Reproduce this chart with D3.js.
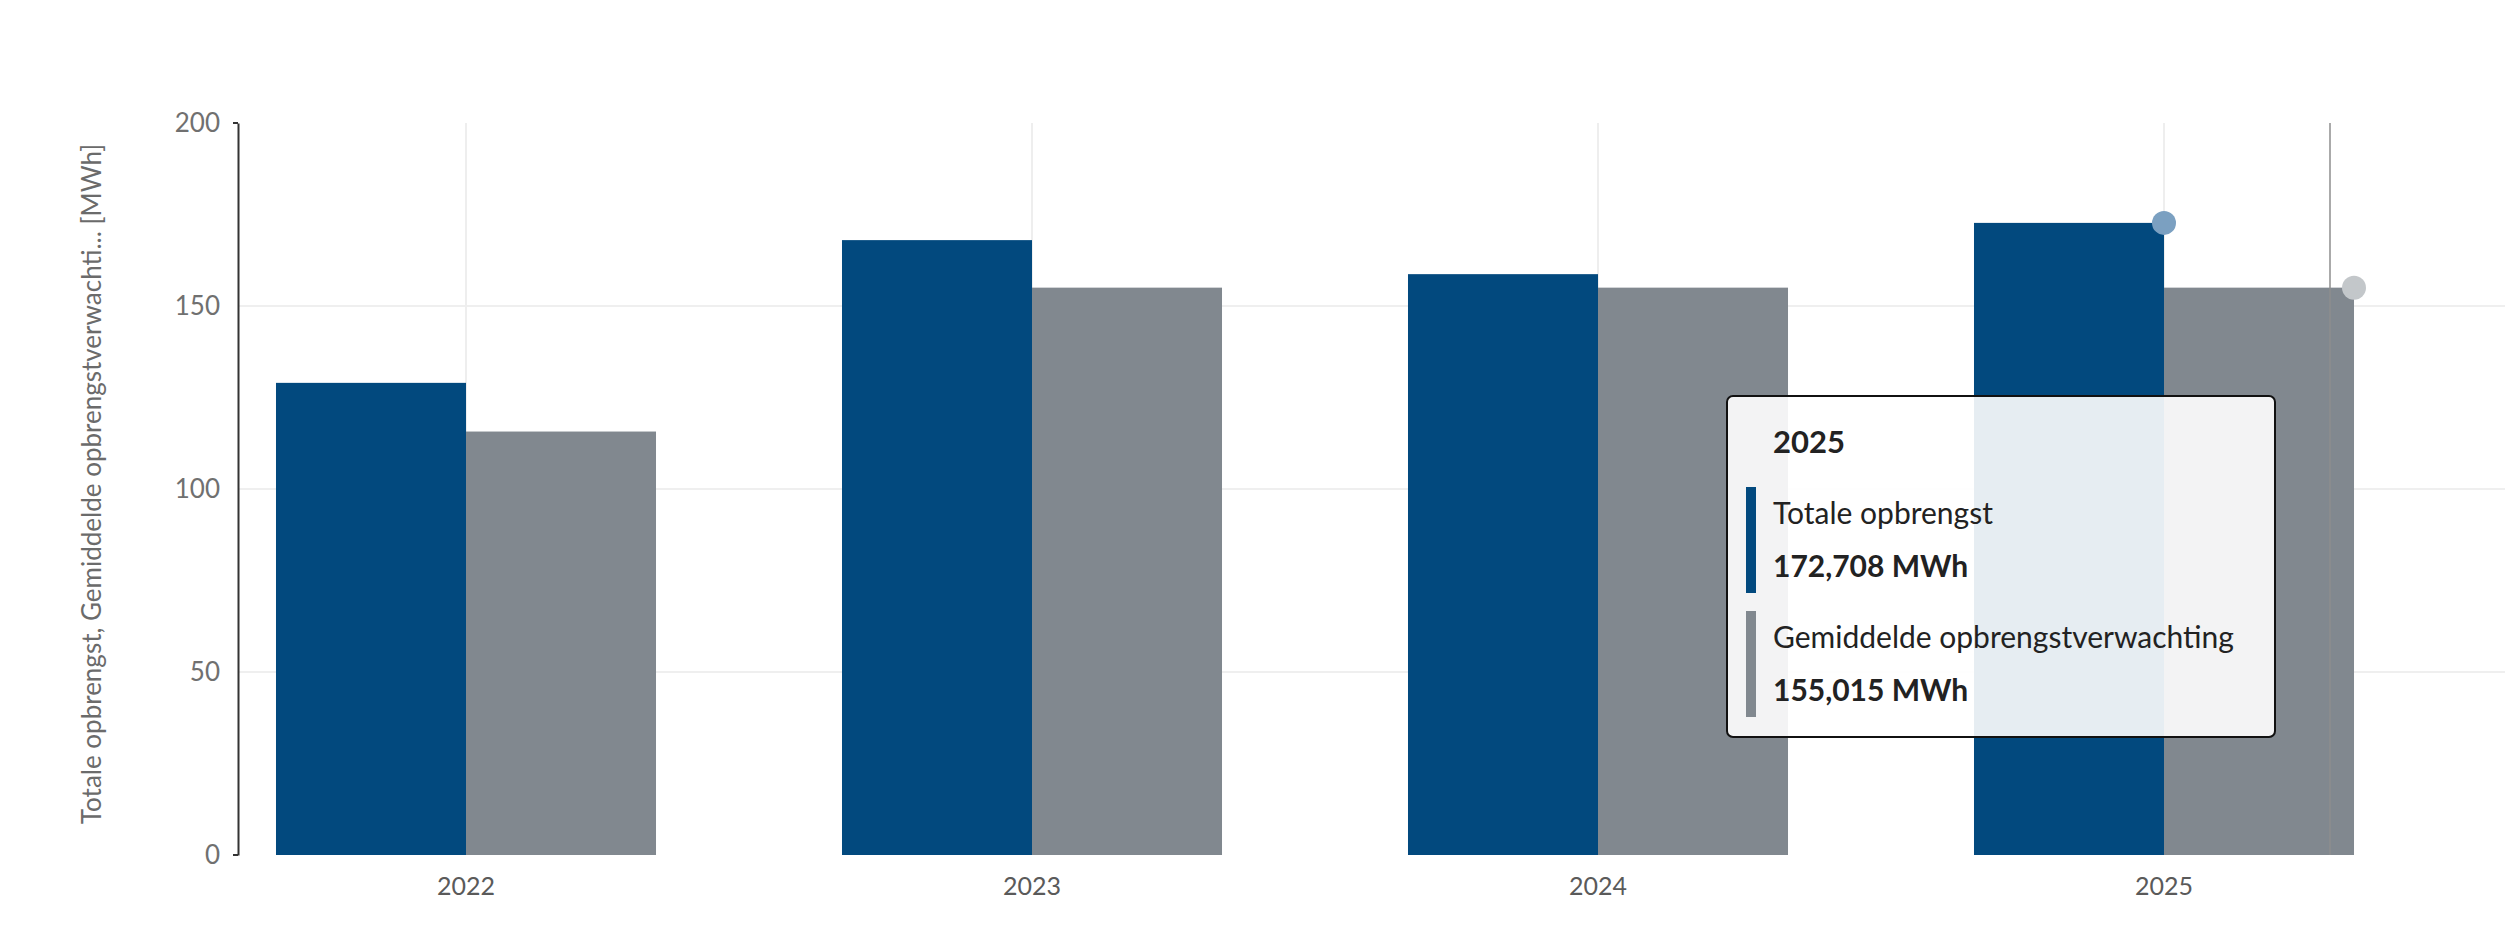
<!DOCTYPE html>
<html>
<head>
<meta charset="utf-8">
<script src="https://cdn.jsdelivr.net/npm/d3@7"></script>
<style>
  html, body { margin: 0; padding: 0; background: #ffffff; }
  svg { display: block; font-family: Lato, "Open Sans", sans-serif; }
</style>
</head>
<body>
<svg id="chart" width="2505" height="935"></svg>
<script>
// ---- data ----
const years = ["2022", "2023", "2024", "2025"];
const seriesNames = ["Totale opbrengst", "Gemiddelde opbrengstverwachting"];
const totaleOpbrengst = [129.0, 168.0, 158.7, 172.708];
const opbrengstVerwachting = [115.7, 155.015, 155.015, 155.015];
const yTicks = [0, 50, 100, 150, 200];
const yTitle = "Totale opbrengst, Gemiddelde opbrengstverwachti... [MWh]";
const unit = "MWh";
const hoverYear = "2025";

const colors = ["#02497e", "#81888f"];
const dotColors = ["#7ba0c1", "#c3c7ca"];

const svg = d3.select("#chart");
const W = 2505, H = 935;

const y = d3.scaleLinear().domain([0, 200]).range([855, 123]);
const x0 = d3.scaleBand().domain(years).range([183, 2447]).paddingInner(0.3286).paddingOuter(0.1643);
const x1 = d3.scaleBand().domain(seriesNames).range([0, x0.bandwidth()]);

const rows = years.map((yr, i) => ({ year: yr, values: [totaleOpbrengst[i], opbrengstVerwachting[i]] }));

const axisX = 238;

// horizontal grid
svg.append("g").selectAll("line").data(yTicks.filter(t => t > 0 && t < 200)).join("line")
  .attr("x1", axisX).attr("x2", W)
  .attr("y1", d => y(d)).attr("y2", d => y(d))
  .attr("stroke", "#efefef").attr("stroke-width", 2);

// vertical grid at category centres
svg.append("g").selectAll("line").data(years).join("line")
  .attr("x1", d => x0(d) + x0.bandwidth() / 2).attr("x2", d => x0(d) + x0.bandwidth() / 2)
  .attr("y1", y(200)).attr("y2", y(0))
  .attr("stroke", "#eeeeee").attr("stroke-width", 2);

// bars
const groups = svg.append("g").selectAll("g").data(rows).join("g")
  .attr("transform", d => `translate(${x0(d.year)},0)`);
groups.selectAll("rect").data(d => d.values.map((v, j) => ({ name: seriesNames[j], v, j }))).join("rect")
  .attr("x", d => x1(d.name))
  .attr("width", x1.bandwidth())
  .attr("y", d => y(d.v))
  .attr("height", d => y(0) - y(d.v))
  .attr("fill", d => colors[d.j]);

// y axis
const yAxis = d3.axisLeft(y).tickValues(yTicks).tickSize(0).tickPadding(18).tickFormat(d3.format("d"));
const ga = svg.append("g").attr("transform", `translate(${axisX},0)`).call(yAxis);
ga.select(".domain").attr("stroke", "#333").attr("stroke-width", 2);
ga.selectAll("text").attr("font-size", 26).attr("fill", "#707070").attr("font-family", "Lato, sans-serif");
// small end ticks
svg.append("g").selectAll("line").data([200, 0]).join("line")
  .attr("x1", axisX - 5).attr("x2", axisX).attr("y1", d => y(d)).attr("y2", d => y(d))
  .attr("stroke", "#333").attr("stroke-width", 2);

// x axis labels
const xAxis = d3.axisBottom(x0).tickSize(0).tickPadding(22);
const gx = svg.append("g").attr("transform", `translate(0,${y(0)})`).call(xAxis);
gx.select(".domain").remove();
gx.selectAll("text").attr("font-size", 25).attr("fill", "#5a5a5a").attr("font-family", "Lato, sans-serif");

// y title
svg.append("text")
  .attr("transform", `translate(91,484) rotate(-90)`)
  .attr("text-anchor", "middle").attr("dominant-baseline", "central")
  .attr("font-size", 26).attr("fill", "#6b6b6b")
  .text(yTitle);

// cursor line
const hi = years.indexOf(hoverYear);
svg.append("line")
  .attr("x1", 2330).attr("x2", 2330).attr("y1", y(200)).attr("y2", y(0))
  .attr("stroke", "#8e8e8e").attr("stroke-width", 2).attr("opacity", 0.75);

// hover dots
svg.append("g").selectAll("circle").data(rows[hi].values).join("circle")
  .attr("cx", (d, j) => x0(hoverYear) + x1(seriesNames[j]) + x1.bandwidth())
  .attr("cy", d => y(d))
  .attr("r", 12)
  .attr("fill", (d, j) => dotColors[j]);

// tooltip
const fmt = v => d3.format(".3f")(v).replace(".", ",") + " " + unit;
const tt = svg.append("g");
tt.append("rect")
  .attr("x", 1727).attr("y", 396).attr("width", 548).attr("height", 341)
  .attr("rx", 6).attr("fill", "#ffffff").attr("fill-opacity", 0.9)
  .attr("stroke", "#111").attr("stroke-width", 2);
tt.append("text").attr("x", 1773).attr("y", 453)
  .attr("font-size", 31).attr("font-weight", 700).attr("fill", "#222").text(hoverYear);
const itemTop = [487, 611];
seriesNames.forEach((name, j) => {
  tt.append("text").attr("x", 1773).attr("y", itemTop[j] + 37)
    .attr("font-size", 30).attr("font-weight", 400).attr("fill", "#222").text(name);
  tt.append("rect").attr("x", 1746).attr("y", itemTop[j]).attr("width", 10).attr("height", 106).attr("fill", colors[j]);
  tt.append("text").attr("x", 1773).attr("y", itemTop[j] + 90)
    .attr("font-size", 30).attr("font-weight", 700).attr("fill", "#222").text(fmt(rows[hi].values[j]));
});
</script>
</body>
</html>
